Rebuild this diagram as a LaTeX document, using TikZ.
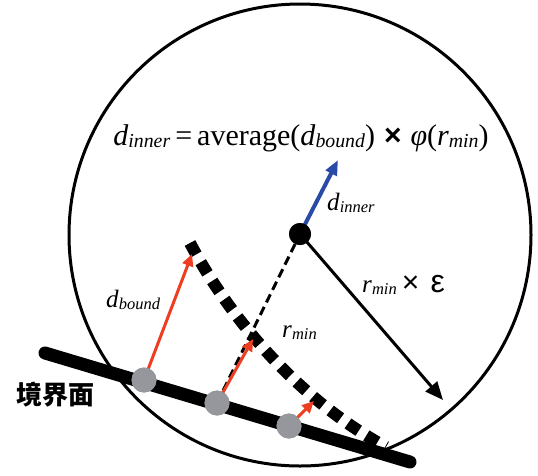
\documentclass[tikz,border=0pt]{standalone}
\usepackage{fontspec}
\usepackage{graphicx}
\setmainfont{Liberation Serif}
\newfontfamily\lsans{Liberation Sans}
\newfontfamily\cjk{Noto Sans CJK SC}
\usetikzlibrary{arrows.meta,positioning}

\definecolor{ptgray}{RGB}{150,151,156}
\definecolor{vred}{RGB}{238,62,34}
\definecolor{vblue}{RGB}{42,74,168}

% variable with italic subscript
\newcommand{\vsub}[2]{\textit{#1}\raisebox{-0.08em}{\scalebox{0.66}{\textit{#2}}}}
\newcommand{\tms}{\hspace{0.3em}{\lsans\bfseries ×}\hspace{0.3em}}

\tikzset{
  ptnode/.style={circle,fill=ptgray,minimum size=25pt,inner sep=0pt},
  ctrnode/.style={circle,fill=black,minimum size=22pt,inner sep=0pt},
  vecred/.style={draw=vred,line width=3pt,-{Triangle[length=12pt,width=11pt]}},
  lbl/.style={font=\fontsize{25}{27}\selectfont,inner sep=0pt}
}

\begin{document}
\begin{tikzpicture}[x=1pt,y=-1pt]
  \useasboundingbox (0,0) rectangle (538,475);

  % influence circle
  \draw[line width=3pt] (300,235) circle[radius=231];

  % boundary surface
  \coordinate (b1) at (45,353);
  \coordinate (b2) at (410,462);
  \draw[line width=13pt,line cap=round] (b1) -- (b2);

  % offset curve
  \coordinate (c1) at (190,243);
  \coordinate (c2) at (386,447);
  \draw[line width=12pt,dash pattern=on 13pt off 9pt] (c1) .. controls (232,322) and (300,400) .. (c2);

  % sample points
  \node[ctrnode] (ctr) at (300,234) {};
  \node[ptnode] (p1) at (144,380) {};
  \node[ptnode] (p2) at (217,403) {};
  \node[ptnode] (p3) at (289,426) {};

  \draw[line width=3pt,dash pattern=on 9pt off 5pt] (ctr) -- (p2);

  % boundary vectors
  \coordinate (t1) at (192,254);
  \coordinate (t2) at (253,339);
  \coordinate (t3) at (314,401);
  \draw[vecred] (p1.center) -- (t1);
  \draw[vecred] (p2.center) -- (t2);
  \draw[vecred] (p3.center) -- (t3);
  \node[ptnode] at (p1) {};
  \node[ptnode] at (p2) {};
  \node[ptnode] at (p3) {};

  % inner vector and radius
  \coordinate (ti) at (338,160);
  \coordinate (te) at (443,400);
  \draw[vblue,line width=4pt,-{Triangle[length=15pt,width=12pt]}] (ctr.center) -- (ti);
  \draw[line width=3pt,-{Triangle[length=18pt,width=15pt]}] (ctr.center) -- (te);
  \node[ctrnode] at (ctr) {};

  % labels
  \node[font=\fontsize{30}{32}\selectfont,inner sep=0pt] (eq) at (301,138)
    {\vsub{d}{inner}\,=\,average(\vsub{d}{bound})\tms\textit{φ}(\vsub{r}{min})};
  \node[lbl,anchor=west] (linner) at (327,203) {\vsub{d}{inner}};
  \node[lbl,anchor=west] (leps) at (362,285)
    {\vsub{r}{min}\hspace{0.2em}{\lsans\fontsize{30}{30}\selectfont ×}\hspace{0.45em}{\lsans\fontsize{32}{32}\selectfont ε}};
  \node[lbl,anchor=west] (lmin) at (282,333) {\vsub{r}{min}};
  \node[lbl,anchor=west] (lbound) at (106,300) {\vsub{d}{bound}};
  \node[font=\cjk\bfseries\fontsize{26}{28}\selectfont,inner sep=0pt,anchor=west] (lsurf) at (16,395) {境界面};
\end{tikzpicture}
\end{document}
